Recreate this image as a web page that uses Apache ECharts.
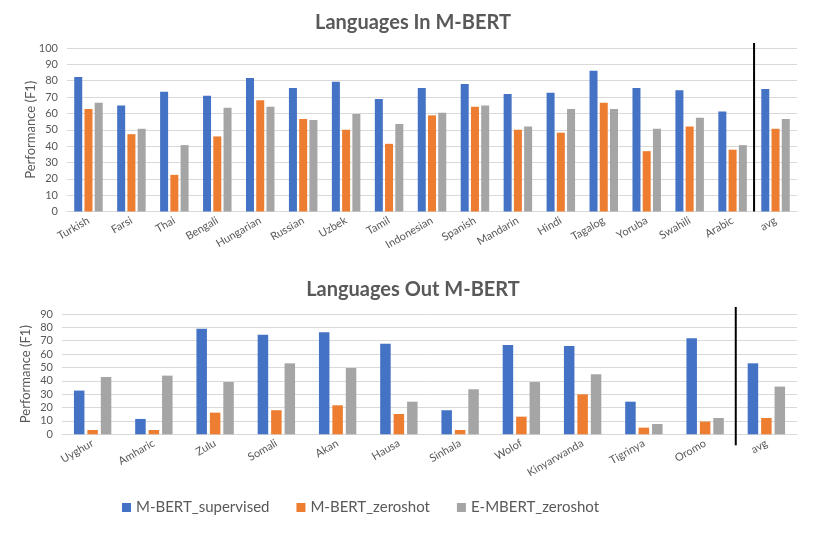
<!DOCTYPE html>
<html>
<head>
<meta charset="utf-8">
<script src="https://cdn.jsdelivr.net/npm/echarts@6/dist/echarts.min.js"></script>
<style>html,body{margin:0;padding:0;background:#fff}#c{width:830px;height:541px}</style>
</head>
<body>
<div id="c"></div>
<script>
const seriesNames = ['M-BERT_supervised', 'M-BERT_zeroshot', 'E-MBERT_zeroshot'];
const colors = ['#4472C4', '#ED7D31', '#A5A5A5'];

const inCategories = ['Turkish','Farsi','Thai','Bengali','Hungarian','Russian','Uzbek','Tamil','Indonesian','Spanish','Mandarin','Hindi','Tagalog','Yoruba','Swahili','Arabic','avg'];
const inSupervised = [82.2, 64.9, 73.3, 70.8, 81.6, 75.5, 79.4, 68.8, 75.5, 78.0, 71.8, 72.7, 86.1, 75.5, 74.1, 61.2, 74.9];
const inZeroshot   = [62.7, 47.3, 22.4, 45.9, 68.0, 56.5, 50.0, 41.4, 58.8, 64.1, 50.0, 48.2, 66.5, 36.9, 52.0, 37.8, 50.6];
const inEmbert     = [66.5, 50.6, 40.6, 63.5, 64.1, 55.9, 59.6, 53.5, 60.4, 64.9, 52.0, 62.7, 62.7, 50.6, 57.3, 40.6, 56.5];

const outCategories = ['Uyghur','Amharic','Zulu','Somali','Akan','Hausa','Sinhala','Wolof','Kinyarwanda','Tigrinya','Oromo','avg'];
const outSupervised = [32.7, 11.5, 79.0, 74.5, 76.3, 67.8, 18.0, 66.8, 66.1, 24.4, 71.8, 53.1];
const outZeroshot   = [3.2, 3.2, 16.2, 18.0, 21.7, 15.2, 3.2, 13.2, 29.9, 5.0, 9.5, 12.2];
const outEmbert     = [42.9, 43.9, 39.1, 53.1, 49.6, 24.4, 33.7, 39.1, 44.9, 7.7, 12.2, 35.7];

const FONT = 'Lato';
const txt = '#595959';

const chart = echarts.init(document.getElementById('c'), null, {renderer: 'canvas'});

function xAx(gi, cats) {
  return {
    type: 'category', gridIndex: gi, data: cats,
    axisTick: {show: false},
    axisLine: {lineStyle: {color: '#D9D9D9', width: 1}},
    axisLabel: {rotate: 30, color: txt, fontFamily: FONT, fontSize: 11, margin: 8, interval: 0}
  };
}
function yAx(gi, max) {
  return {
    type: 'value', gridIndex: gi, min: 0, max: max, interval: 10,
    name: 'Performance (F1)', nameLocation: 'middle', nameGap: 30, nameMoveOverlap: false,
    nameTextStyle: {color: txt, fontFamily: FONT, fontSize: 13},
    axisLabel: {color: txt, fontFamily: FONT, fontSize: 11, margin: 9},
    splitLine: {lineStyle: {color: '#D9D9D9', width: 1}},
    axisLine: {show: false}, axisTick: {show: false}
  };
}
function bars(gi, data, bw, gap) {
  return data.map((d, i) => ({
    type: 'bar', name: seriesNames[i], xAxisIndex: gi, yAxisIndex: gi, data: d,
    barWidth: bw, barGap: gap,
    itemStyle: {color: colors[i]},
    emphasis: {disabled: true}, animation: false
  }));
}

chart.setOption({
  animation: false,
  color: colors,
  title: [
    {text: 'Languages In M-BERT', left: 408, top: 8, textAlign: 'center',
     textStyle: {fontFamily: FONT, fontWeight: 'bold', fontSize: 20, color: txt}},
    {text: 'Languages Out M-BERT', left: 408, top: 275, textAlign: 'center',
     textStyle: {fontFamily: FONT, fontWeight: 'bold', fontSize: 20, color: txt}}
  ],
  legend: {
    data: seriesNames, left: 117, top: 495,
    itemWidth: 9, itemHeight: 9, itemGap: 27, icon: 'rect',
    textStyle: {fontFamily: FONT, fontSize: 15, color: txt}
  },
  grid: [
    {left: 67, right: 33, top: 48, height: 163.5, containLabel: false},
    {left: 62, right: 33, top: 314, height: 120.3, containLabel: false}
  ],
  xAxis: [xAx(0, inCategories), xAx(1, outCategories)],
  yAxis: [yAx(0, 100), yAx(1, 90)],
  series: [
    ...bars(0, [inSupervised, inZeroshot, inEmbert], 8, '28%'),
    ...bars(1, [outSupervised, outZeroshot, outEmbert], 10.5, '28%')
  ]
});

// Separator lines before the "avg" category, placed via the axis scales
function sepLine(gi, cats, y0v, y1v, extTop, extBot) {
  const a = chart.convertToPixel({xAxisIndex: gi}, cats[cats.length - 2]);
  const b = chart.convertToPixel({xAxisIndex: gi}, cats[cats.length - 1]);
  const x = (a + b) / 2;
  const yt = chart.convertToPixel({yAxisIndex: gi}, y1v) - extTop;
  const yb = chart.convertToPixel({yAxisIndex: gi}, y0v) + extBot;
  return {type: 'line', shape: {x1: x, y1: yt, x2: x, y2: yb}, style: {stroke: '#000', lineWidth: 2}, z: 100};
}
chart.setOption({
  graphic: [
    sepLine(0, inCategories, 0, 100, 5, 0),
    sepLine(1, outCategories, 0, 90, 7, 11)
  ]
});
</script>
</body>
</html>
